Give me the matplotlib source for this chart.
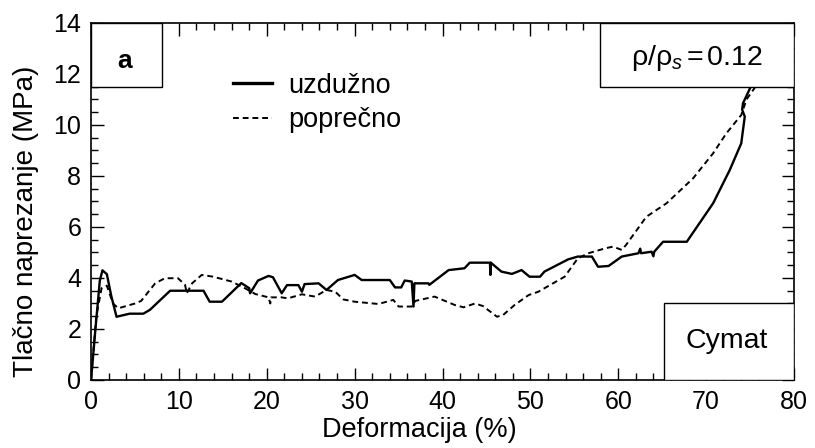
import numpy as np
import matplotlib
matplotlib.use("Agg")
import matplotlib.pyplot as plt
from matplotlib.patches import Rectangle
from matplotlib.ticker import MultipleLocator

plt.rcParams['font.family'] = ['Liberation Sans', 'DejaVu Sans']
plt.rcParams['mathtext.fontset'] = 'custom'
plt.rcParams['mathtext.rm'] = 'Liberation Sans'
plt.rcParams['mathtext.it'] = 'Liberation Sans:italic'

# uzduzno (solid)
x_uzd = [0, 0.5, 1.0, 1.3, 1.8, 2.3, 2.9, 4.4, 5.95, 6.7, 9.0, 12.8, 13.5, 14.9, 17.1, 18.0, 18.1,
         19.0, 20.2, 20.7, 21.7, 22.3, 23.6, 24.0, 24.3, 25.9, 26.8, 28.1, 30.0, 30.8, 34.0, 34.6,
         35.3, 35.7, 36.5, 36.7, 36.8, 38.4, 38.5, 40.7, 42.5, 43.1, 45.4, 45.45, 45.5, 46.7, 47.9,
         49.0, 49.9, 51.1, 51.6, 54.3, 55.4, 57.0, 57.7, 58.9, 60.4, 62.3, 62.5, 62.6, 63.8, 64.0, 64.1,
         65.1, 67.8, 70.8, 72.7, 74.0, 74.4, 74.1, 74.2, 75.0, 75.6]
y_uzd = [0, 2.0, 3.9, 4.3, 4.15, 3.3, 2.48, 2.6, 2.6, 2.75, 3.5, 3.5, 3.07, 3.07, 3.8, 3.6, 3.4,
         3.9, 4.08, 4.03, 3.4, 3.72, 3.72, 3.46, 3.76, 3.79, 3.53, 3.92, 4.12, 3.92, 3.92, 3.63,
         3.63, 3.9, 3.86, 2.88, 3.79, 3.79, 3.73, 4.31, 4.38, 4.6, 4.6, 4.12, 4.6, 4.25, 4.16,
         4.31, 4.05, 4.05, 4.25, 4.73, 4.84, 4.84, 4.44, 4.47, 4.84, 4.97, 5.15, 4.97, 5.03, 4.85, 5.03,
         5.42, 5.42, 6.93, 8.24, 9.28, 10.33, 10.6, 10.85, 11.44, 12.0]

# poprecno (dashed)
x_pop = [0, 0.6, 1.2, 1.8, 2.5, 3.1, 5.0, 5.7, 7.3, 8.4, 9.9, 10.7, 10.9, 11.5, 12.6, 13.9, 16.0,
         17.5, 18.7, 20.2, 20.4, 20.5, 21.7, 22.4, 24.0, 25.5, 26.8, 27.8, 28.7, 30.0, 32.7, 34.4,
         35.0, 36.5, 36.9, 39.1, 41.4, 42.4, 43.7, 44.6, 46.2, 46.9, 48.2, 49.8, 50.9, 53.9, 55.4,
         56.6, 58.5, 59.4, 60.4, 60.9, 63.2, 65.5, 68.5, 70.8, 72.3, 74.0, 74.6, 75.5, 76.2]
y_pop = [0, 2.5, 3.6, 3.7, 3.0, 2.81, 3.0, 3.1, 3.79, 3.99, 3.99, 3.73, 3.4, 3.79, 4.12, 4.05, 3.86,
         3.6, 3.37, 3.24, 3.0, 3.24, 3.24, 3.2, 3.36, 3.27, 3.53, 3.46, 3.16, 3.07, 2.98, 3.14,
         2.88, 2.88, 3.1, 3.27, 2.94, 2.85, 3.0, 2.9, 2.48, 2.55, 2.94, 3.33, 3.46, 4.05, 4.77,
         4.97, 5.16, 5.23, 5.1, 5.3, 6.4, 6.93, 7.9, 8.89, 9.67, 10.39, 11.0, 11.44, 12.0]

fig = plt.figure(figsize=(8.15, 4.48), dpi=100)
ax = fig.add_axes([0.1117, 0.1518, 0.8625, 0.797])

ax.plot(x_uzd, y_uzd, color='black', lw=1.7, ls='-', label='uzdužno', zorder=2)
ax.plot(x_pop, y_pop, color='black', lw=1.4, ls=(0, (3, 2)), label='poprečno', zorder=2)

ax.set_xlim(0, 80)
ax.set_ylim(0, 14)
ax.xaxis.set_major_locator(MultipleLocator(10))
ax.xaxis.set_minor_locator(MultipleLocator(2))
ax.yaxis.set_major_locator(MultipleLocator(2))
ax.yaxis.set_minor_locator(MultipleLocator(0.5))
ax.tick_params(which='both', direction='in', top=True, right=True, labelsize=18, width=1)
ax.tick_params(which='major', length=9)
ax.tick_params(which='minor', length=5)
ax.tick_params(axis='x', pad=7)
ax.tick_params(axis='y', pad=7)
for s in ax.spines.values():
    s.set_linewidth(1.2)

ax.set_xlabel('Deformacija (%)', fontsize=19.5)
ax.set_ylabel('Tlačno naprezanje (MPa)', fontsize=20)
ax.xaxis.set_label_coords(0.467, -0.105)
ax.yaxis.set_label_coords(-0.074, 0.445)

# boxes
ax.add_patch(Rectangle((0, 11.5), 8.1, 2.5, facecolor='white', edgecolor='black', lw=1.0, zorder=3))
ax.add_patch(Rectangle((57.9, 11.5), 22.1, 2.5, facecolor='white', edgecolor='black', lw=1.0, zorder=3))
ax.add_patch(Rectangle((65.2, 0), 14.8, 3.0, facecolor='white', edgecolor='black', lw=1.0, zorder=3))

ax.text(3.8, 12.24, 'a', fontsize=19, fontweight='bold', ha='center', va='baseline', zorder=4)
ax.text(69.0, 12.35, r'ρ/ρ$_{\mathit{s}}$$\,$=$\,$0.12', fontsize=20.5, ha='center', va='baseline', zorder=4)
ax.text(72.35, 1.25, 'Cymat', fontsize=20.5, ha='center', va='baseline', zorder=4)

leg = ax.legend(loc='upper left', bbox_to_anchor=(0.202, 0.86), frameon=False, fontsize=19.5,
                handlelength=1.45, handletextpad=0.6, labelspacing=0.3, borderaxespad=0, borderpad=0)
leg.get_lines()[0].set_linewidth(2.4)

fig.savefig('out.png', dpi=100)
